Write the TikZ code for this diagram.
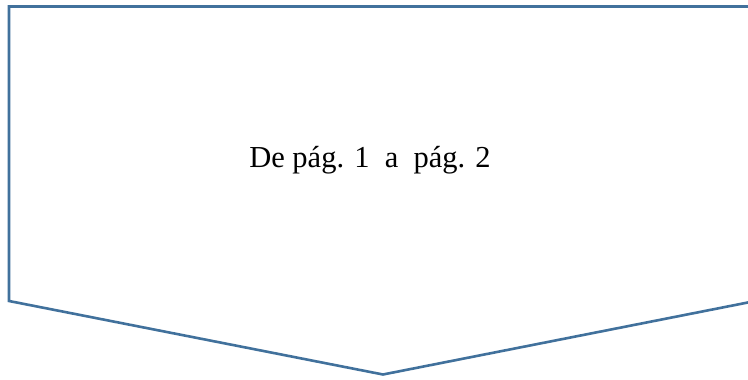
\documentclass[tikz,border=0pt]{standalone}
\usepackage{fontspec}
\setmainfont{Liberation Serif}
\definecolor{shapeblue}{RGB}{65,113,156}
\tikzset{offpage/.style={draw=shapeblue,line width=2.6pt,line join=miter,fill=white},
  label text/.style={font=\fontsize{30.5}{36}\selectfont,inner sep=0pt,anchor=base}}
\begin{document}
\begin{tikzpicture}[x=1pt,y=1pt]
\useasboundingbox (0,0) rectangle (748,380);
\clip (0,0) rectangle (748,380);
\fill[white] (0,0) rectangle (748,380);
\draw[offpage] (9,373.5) -- (758,373.5) -- (758,79.5) -- (383,5.5) -- (9,79) -- cycle;
\node[label text] (txt) at (370,212) {De pág. 1\hspace{0.5em}a\hspace{0.5em}pág. 2};
\end{tikzpicture}
\end{document}
